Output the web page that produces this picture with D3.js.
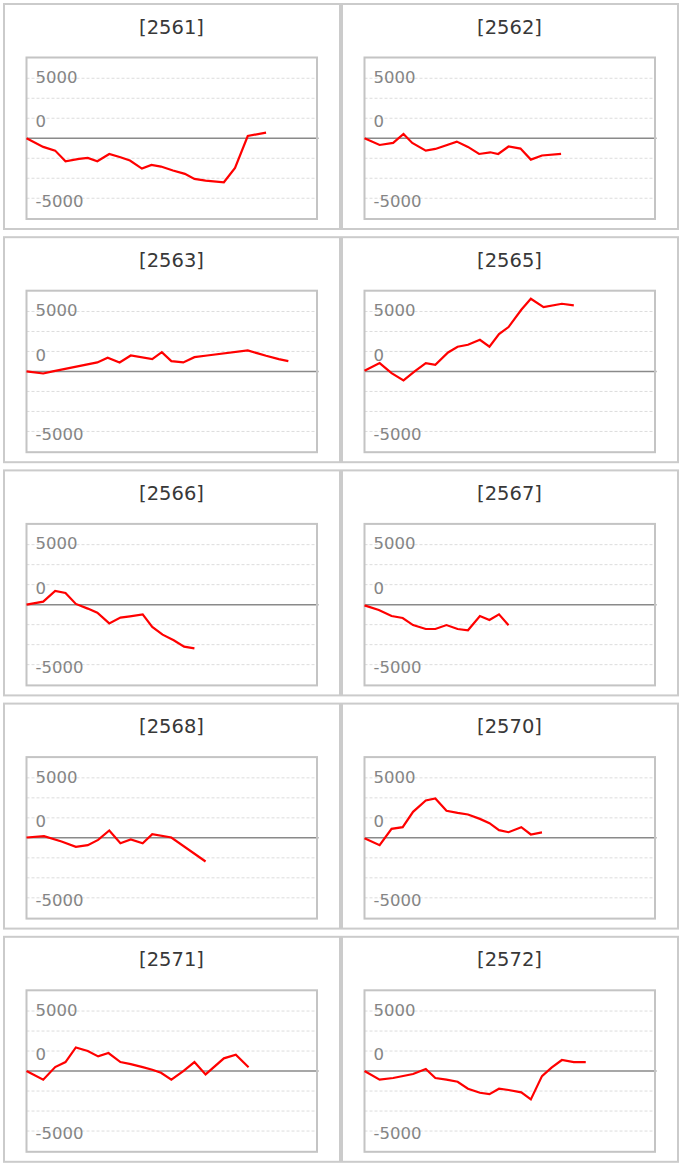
<!DOCTYPE html>
<html>
<head>
<meta charset="utf-8">
<script src="https://cdn.jsdelivr.net/npm/d3@7"></script>
<style>
  html, body { margin: 0; padding: 0; background: #fff; }
  svg { display: block; }
</style>
</head>
<body>
<svg id="chart" width="682" height="1167"></svg>
<script>
// ---- data (day of year, cumulative value) ----
const panelCodes = ["2561", "2562", "2563", "2565", "2566", "2567", "2568", "2570", "2571", "2572"];

const days2561 = [0, 21, 36, 49, 66, 77, 89, 104, 118, 130, 145, 157, 169, 184, 199, 211, 225, 248, 262, 278, 301];
const vals2561 = [0, -720, -1030, -1920, -1720, -1640, -1920, -1310, -1580, -1860, -2530, -2220, -2360, -2690, -2970, -3390, -3530, -3670, -2470, 190, 470];

const days2562 = [0, 19, 36, 49, 60, 77, 89, 116, 130, 144, 158, 168, 181, 196, 209, 223, 247];
const vals2562 = [0, -560, -390, 360, -390, -1030, -890, -280, -720, -1310, -1170, -1310, -690, -860, -1780, -1440, -1310];

const days2563 = [0, 21, 33, 89, 102, 117, 131, 158, 170, 182, 197, 211, 227, 278, 301, 317, 329];
const vals2563 = [0, -170, 0, 750, 1140, 750, 1330, 1030, 1610, 860, 750, 1190, 1330, 1750, 1310, 1030, 860];

const days2565 = [0, 19, 34, 49, 63, 77, 89, 105, 117, 130, 145, 157, 169, 181, 197, 209, 225, 248, 263];
const vals2565 = [60, 700, -140, -750, 0, 700, 560, 1580, 2060, 2220, 2640, 2060, 3110, 3700, 5140, 6060, 5360, 5640, 5500];

const days2566 = [0, 21, 36, 49, 62, 77, 89, 104, 118, 130, 146, 158, 171, 185, 198, 211];
const vals2566 = [0, 250, 1140, 970, 60, -330, -670, -1560, -1080, -970, -810, -1860, -2500, -2970, -3500, -3640];

const days2567 = [0, 18, 34, 48, 61, 77, 89, 103, 117, 130, 145, 157, 169, 181];
const vals2567 = [-60, -450, -950, -1110, -1700, -2030, -2030, -1700, -2030, -2140, -950, -1280, -810, -1720];

const days2568 = [0, 22, 44, 62, 77, 90, 104, 118, 131, 146, 158, 182, 225];
const vals2568 = [30, 140, -310, -750, -610, -170, 610, -450, -140, -450, 310, 30, -1970];

const days2570 = [0, 19, 34, 48, 61, 77, 89, 103, 117, 130, 145, 157, 169, 181, 197, 209, 223];
const vals2570 = [-30, -610, 750, 890, 2170, 3110, 3280, 2250, 2080, 1950, 1580, 1220, 640, 470, 890, 280, 450];

const days2571 = [0, 21, 36, 49, 62, 77, 90, 103, 118, 131, 146, 158, 169, 182, 197, 211, 225, 248, 263, 279];
const vals2571 = [0, -720, 330, 750, 1970, 1670, 1220, 1500, 750, 580, 330, 110, -140, -720, 0, 750, -280, 1060, 1360, 310];

const days2572 = [0, 19, 36, 61, 77, 89, 103, 117, 130, 145, 157, 169, 181, 197, 209, 223, 235, 248, 263, 278];
const vals2572 = [0, -720, -580, -250, 170, -580, -720, -890, -1470, -1810, -1920, -1470, -1580, -1780, -2360, -420, 280, 920, 750, 750];

const seriesDays = [days2561, days2562, days2563, days2565, days2566, days2567, days2568, days2570, days2571, days2572];
const seriesVals = [vals2561, vals2562, vals2563, vals2565, vals2566, vals2567, vals2568, vals2570, vals2571, vals2572];

// axis
const xDomain = [0, 365];
const yDomain = [-6730, 6730];
const gridValues = [-5000, -3333, -1667, 1667, 3333, 5000];
const tickLabels = ["5000", "0", "-5000"];
const tickLabelAnchors = [5100, 1400, -5200];

// ---- layout ----
const svg = d3.select("#chart");
const panelW = 336, panelH = 225;
const colX = [4, 342];
const rowY0 = 4, rowPitch = 233.2;
const box = { left: 22.5, right: 313, top: 53.5, bottom: 215 };

panelCodes.forEach((code, i) => {
  const col = i % 2, row = Math.floor(i / 2);
  const g = svg.append("g")
    .attr("transform", `translate(${colX[col]},${rowY0 + row * rowPitch})`);

  g.append("rect")
    .attr("x", 0).attr("y", 0)
    .attr("width", panelW).attr("height", panelH)
    .attr("fill", "#fff")
    .attr("stroke", "#cbcbcb")
    .attr("stroke-width", 2);

  g.append("text")
    .attr("x", panelW / 2 - 0.5)
    .attr("y", 29.5)
    .attr("text-anchor", "middle")
    .attr("font-family", "'DejaVu Sans', Verdana, sans-serif")
    .attr("font-size", 19.5)
    .attr("fill", "#383838")
    .text(`[${code}]`);

  const x = d3.scaleLinear().domain(xDomain).range([box.left, box.right]);
  const y = d3.scaleLinear().domain(yDomain).range([box.bottom, box.top]);

  // gridlines
  g.selectAll("line.grid").data(gridValues).enter().append("line")
    .attr("class", "grid")
    .attr("x1", box.left).attr("x2", box.right)
    .attr("y1", d => y(d)).attr("y2", d => y(d))
    .attr("stroke", "#dcdcdc")
    .attr("stroke-width", 1)
    .attr("stroke-dasharray", "3,2");

  // tick labels
  g.selectAll("text.tick").data(tickLabels).enter().append("text")
    .attr("class", "tick")
    .attr("x", box.left + 9)
    .attr("y", (d, k) => y(tickLabelAnchors[k]))
    .attr("dy", "0.36em")
    .attr("font-family", "'DejaVu Sans', Verdana, sans-serif")
    .attr("font-size", 16.5)
    .attr("fill", "#858585")
    .text(d => d);

  // zero line
  g.append("line")
    .attr("x1", box.left).attr("x2", box.right + 1.5)
    .attr("y1", y(0)).attr("y2", y(0))
    .attr("stroke", "#8a8a8a")
    .attr("stroke-width", 1.5);

  // plot box
  g.append("rect")
    .attr("x", box.left).attr("y", box.top)
    .attr("width", box.right - box.left).attr("height", box.bottom - box.top)
    .attr("fill", "none")
    .attr("stroke", "#c4c4c4")
    .attr("stroke-width", 2);

  // series line
  const pts = seriesDays[i].map((d, k) => [d, seriesVals[i][k]]);
  const line = d3.line().x(d => x(d[0])).y(d => y(d[1]));
  g.append("path")
    .datum(pts)
    .attr("d", line)
    .attr("fill", "none")
    .attr("stroke", "#ff0000")
    .attr("stroke-width", 2.2)
    .attr("stroke-linejoin", "miter");
});
</script>
</body>
</html>
